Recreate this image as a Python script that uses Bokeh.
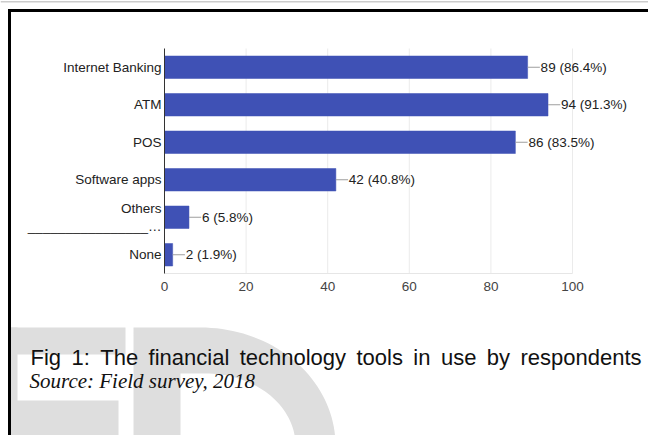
import numpy as np
from bokeh.plotting import figure
from bokeh.models import (Range1d, FixedTicker, Label, BoxAnnotation,
                          PolyAnnotation, ColumnDataSource)
from bokeh.core.properties import value
from bokeh.embed import file_html
from bokeh.resources import INLINE

# ---- data ----
categories = ["Internet Banking", "ATM", "POS", "Software apps",
              "Others\n________________\u2026", "None"]
counts = [89, 94, 86, 42, 6, 2]
percents = [86.4, 91.3, 83.5, 40.8, 5.8, 1.9]
x_ticks = [0, 20, 40, 60, 80, 100]
caption_words = ["Fig", "1:", "The", "financial", "technology", "tools",
                 "in", "use", "by", "respondents"]
source_text = "Source: Field survey, 2018"

FONT = "Liberation Sans"
BAR = "#3f51b5"
WM = "#dedede"

n = len(categories)
ypos = [i + 0.5 for i in range(n)]

# chart area: x=0 at 164 px (4.08 px/unit), first category top at 48 px (37.5 px each)
W, H = 648, 435
PXU, PXC = 4.08, 37.5
X0, Y0 = 164, 48

def dx(px):
    return (px - X0) / PXU

def dy(py):
    return (py - Y0) / PXC

p = figure(width=W, height=H, output_backend="svg", toolbar_location=None,
           x_range=Range1d(dx(0), dx(W)), y_range=Range1d(dy(H), dy(0)),
           min_border=0)
p.outline_line_color = None
p.background_fill_color = "white"
p.border_fill_color = "white"
p.xgrid.visible = False
p.ygrid.visible = False

# ---- grid lines ----
p.segment(x0=x_ticks[1:], y0=[0] * (len(x_ticks) - 1), x1=x_ticks[1:],
          y1=[n] * (len(x_ticks) - 1), line_color="#ebebeb", line_width=1,
          level="underlay")

# ---- bars ----
labels = [f"{c} ({pc}%)" for c, pc in zip(counts, percents)]
src = ColumnDataSource(dict(y=ypos, cnt=counts, lab=labels,
                            lead=[c + 3.0 for c in counts]))
p.hbar(y="y", right="cnt", left=0, height=0.6, source=src,
       fill_color=BAR, line_color=BAR, line_width=0.5)
p.segment(x0="cnt", y0="y", x1="lead", y1="y", source=src,
          line_color="#9e9e9e", line_width=1)
p.text(x="cnt", y="y", text="lab", source=src, x_offset=13,
       text_baseline="middle", text_align="left",
       text_font=value(FONT), text_font_size="13.5px", text_color="#222222")

# ---- axes ----
xa = p.xaxis[0]
xa.fixed_location = n
xa.ticker = FixedTicker(ticks=x_ticks)
xa.bounds = (0, 100)
xa.axis_line_color = "#e6e6e6"
xa.major_tick_line_color = None
xa.minor_tick_line_color = None
xa.major_tick_out = 0
xa.major_tick_in = 0
xa.major_label_standoff = 8
xa.major_label_text_font = FONT
xa.major_label_text_font_size = "13.5px"
xa.major_label_text_color = "#444444"

ya = p.yaxis[0]
ya.fixed_location = 0
ya.ticker = FixedTicker(ticks=ypos)
ya.bounds = (0, n)
ya.major_label_overrides = {y: c for y, c in zip(ypos, categories)}
ya.axis_line_color = "#333333"
ya.major_tick_line_color = None
ya.minor_tick_line_color = None
ya.major_tick_out = 0
ya.major_tick_in = 0
ya.major_label_standoff = 3
ya.major_label_text_font = FONT
ya.major_label_text_font_size = "13.5px"
ya.major_label_text_color = "#222222"

# ---- watermark ----
def box(l, r, t, b, color):
    p.add_layout(BoxAnnotation(left=dx(l), right=dx(r), top=dy(t), bottom=dy(b),
                               fill_color=color, fill_alpha=1.0,
                               line_color=None))

box(10, 17, 327, 436, WM)
box(10, 125, 327, 354, WM)
box(10, 118, 400, 436, WM)

ang = np.linspace(-np.pi / 2, 0.0, 40)
ox = [133] + list(200 + 135 * np.cos(ang)) + [335, 133]
oy = [327] + list(445 + 118 * np.sin(ang)) + [436, 436]
p.add_layout(PolyAnnotation(xs=[dx(v) for v in ox], ys=[dy(v) for v in oy],
                            fill_color=WM, fill_alpha=1.0, line_color=None))
ix = [180] + list(205 + 90 * np.cos(ang)) + [295, 180]
iy = [373] + list(445 + 72 * np.sin(ang)) + [436, 436]
p.add_layout(PolyAnnotation(xs=[dx(v) for v in ix], ys=[dy(v) for v in iy],
                            fill_color="white", fill_alpha=1.0, line_color=None))

# ---- page border ----
box(0, 650, 0.5, 2, "#cccccc")
box(7.5, 650, 8.5, 11.5, "black")
box(7.5, 10.5, 8.5, 436, "black")

# ---- caption (justified) ----
em = {"Fig": 1.389, "1:": 0.834, "The": 1.723, "financial": 3.668,
      "technology": 4.836, "tools": 2.112, "in": 0.778, "use": 1.612,
      "by": 1.056, "respondents": 5.503}
fs = 22
x0, x1 = 30, 641
total = sum(em[w] * fs for w in caption_words)
gap = (x1 - x0 - total) / (len(caption_words) - 1)
xx = x0
for w in caption_words:
    p.add_layout(Label(x=dx(xx), y=dy(357), text=w,
                       text_font=FONT, text_font_size=f"{fs}px",
                       text_color="#111111", text_baseline="alphabetic",
                       text_align="left"))
    xx += em[w] * fs + gap

p.add_layout(Label(x=dx(29), y=dy(380), text=source_text,
                   text_font="Liberation Serif", text_font_style="italic",
                   text_font_size="21px", text_color="#111111",
                   text_baseline="alphabetic", text_align="left"))

open("out.html", "w").write(file_html(p, INLINE))
